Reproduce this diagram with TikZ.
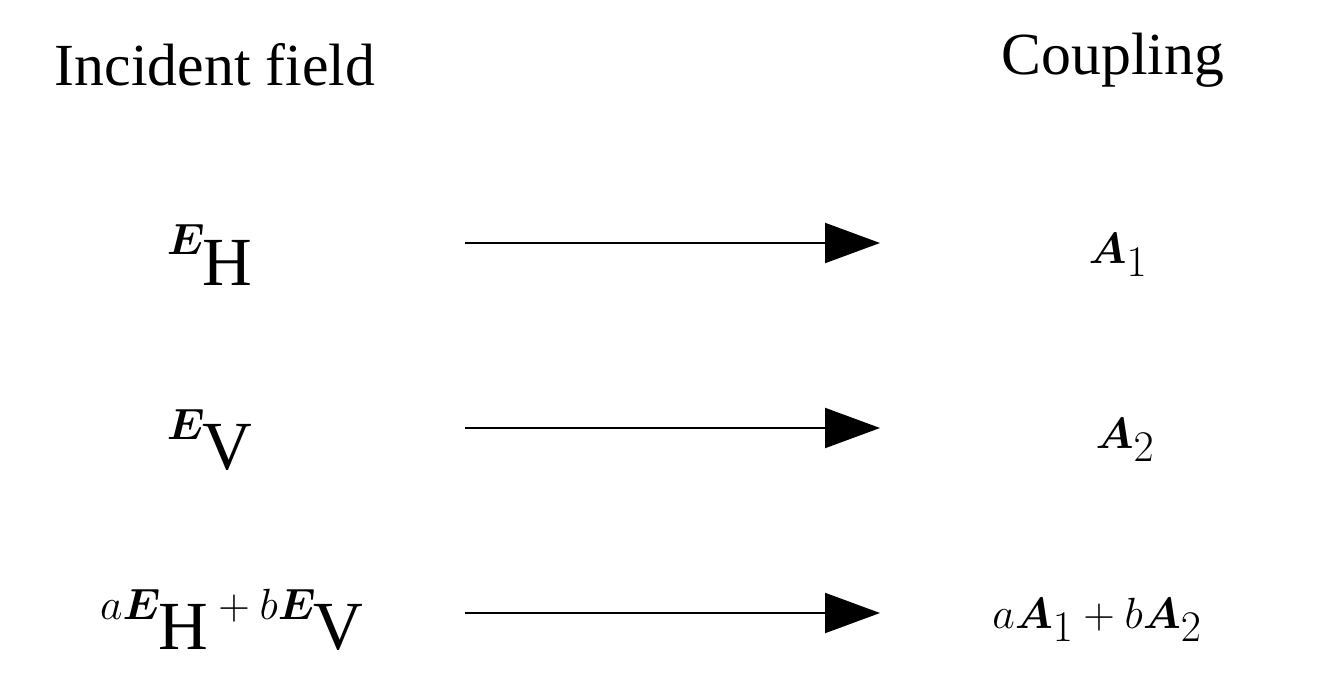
\documentclass[tikz,border=0pt]{standalone}
\usepackage{amsmath,amssymb,bm}
\usepackage{fontspec}
\setmainfont{Liberation Serif}
\usetikzlibrary{arrows.meta}
\begin{document}
\begin{tikzpicture}[x=0.02cm,y=-0.02cm,
  lbl/.style={font=\fontsize{34}{38}\selectfont},
  mth/.style={font=\fontsize{56}{60}\selectfont},
  arr/.style={line width=1.2pt,-{Triangle[length=1.1cm,width=0.8cm]}}]
\useasboundingbox (0,0) rectangle (1335,689);
\node[lbl] (inc) at (215,65) {Incident field};
\node[lbl] (cp) at (1113,60) {Coupling};
\node[mth] (eh) at (210,255) {$\bm{E}_{\mathrm{H}}$};
\node[mth] (a1) at (1118,255) {$\bm{A}_1$};
\node[mth] (ev) at (210,440) {$\bm{E}_{\mathrm{V}}$};
\node[mth] (a2) at (1125,440) {$\bm{A}_2$};
\node[mth] (ec) at (232,620) {$a\bm{E}_{\mathrm{H}}+b\bm{E}_{\mathrm{V}}$};
\node[mth] (ac) at (1097,620) {$a\bm{A}_1+b\bm{A}_2$};
\coordinate (s1) at (465,243); \coordinate (t1) at (880,243);
\coordinate (s2) at (465,428); \coordinate (t2) at (880,428);
\coordinate (s3) at (465,613); \coordinate (t3) at (880,613);
\draw[arr] (s1) -- (t1);
\draw[arr] (s2) -- (t2);
\draw[arr] (s3) -- (t3);
\end{tikzpicture}
\end{document}
